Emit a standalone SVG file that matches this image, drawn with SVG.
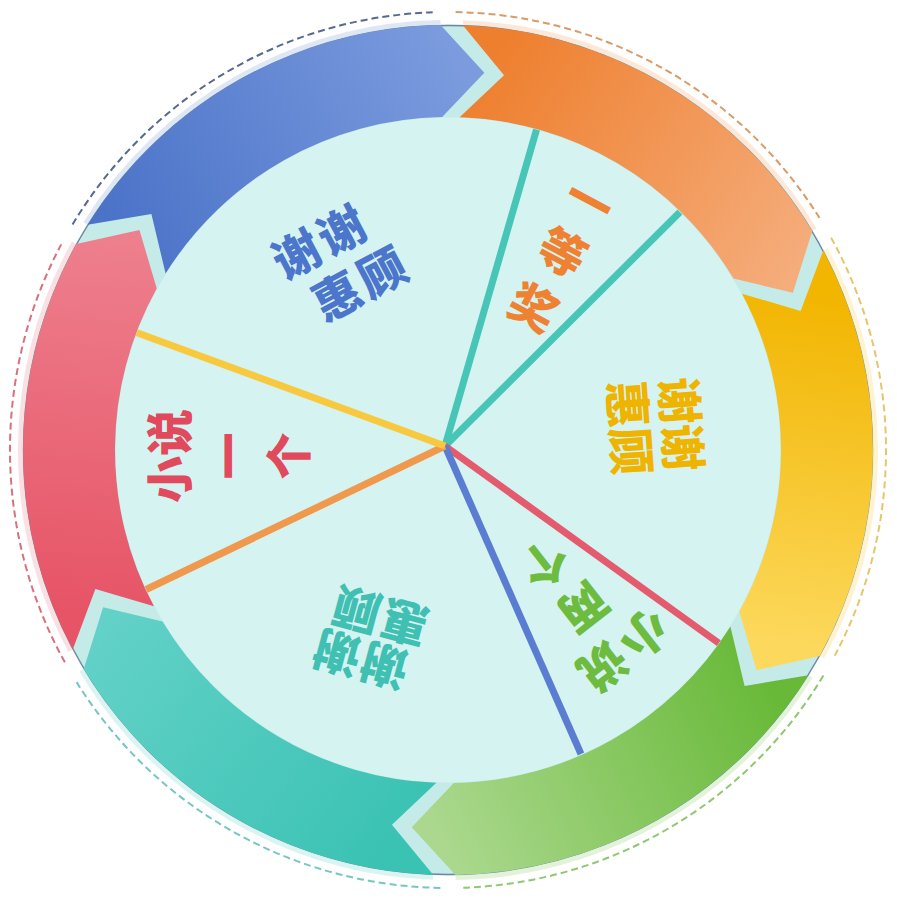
<svg xmlns="http://www.w3.org/2000/svg" width="897" height="898" viewBox="0 0 897 898">
<style>
.lbl{font-family:"Noto Sans CJK SC","Noto Sans",sans-serif;font-weight:900;font-size:47px;text-anchor:middle}
.spoke{stroke-width:7;fill:none}
.dash{fill:none;stroke-width:2;stroke-dasharray:7 4}
.halo{fill:none;stroke-width:10;opacity:0.18}
</style>
<defs>
<linearGradient id="gBlue" gradientUnits="userSpaceOnUse" x1="125" y1="247" x2="462" y2="70"><stop offset="0" stop-color="#4b73c8"/><stop offset="1" stop-color="#7b9bde"/></linearGradient>
<linearGradient id="gOrange" gradientUnits="userSpaceOnUse" x1="480" y1="70" x2="790" y2="280"><stop offset="0" stop-color="#ee7f2e"/><stop offset="1" stop-color="#f5ad7c"/></linearGradient>
<linearGradient id="gYellow" gradientUnits="userSpaceOnUse" x1="800" y1="290" x2="760" y2="640"><stop offset="0" stop-color="#f2b500"/><stop offset="1" stop-color="#fcd85c"/></linearGradient>
<linearGradient id="gGreen" gradientUnits="userSpaceOnUse" x1="760" y1="660" x2="430" y2="825"><stop offset="0" stop-color="#68b938"/><stop offset="1" stop-color="#abd88e"/></linearGradient>
<linearGradient id="gTeal" gradientUnits="userSpaceOnUse" x1="410" y1="825" x2="120" y2="610"><stop offset="0" stop-color="#3ac2b3"/><stop offset="1" stop-color="#62d1c7"/></linearGradient>
<linearGradient id="gRed" gradientUnits="userSpaceOnUse" x1="110" y1="615" x2="140" y2="240"><stop offset="0" stop-color="#e65466"/><stop offset="1" stop-color="#ee7f8d"/></linearGradient>
</defs>

<g id="outer-dashes">
<path class="dash" stroke="#56698f" d="M72.56,224.41 A438,438 0 0 1 432.71,12.27"/>
<path class="dash" stroke="#dc9a66" d="M455.64,12.07 A438,438 0 0 1 819.45,217.89"/>
<path class="dash" stroke="#e6c66a" d="M831.08,237.65 A438,438 0 0 1 834.73,655.63"/>
<path class="dash" stroke="#8fc872" d="M823.44,675.59 A438,438 0 0 1 463.29,887.73"/>
<path class="dash" stroke="#74c8bf" d="M440.36,887.93 A438,438 0 0 1 76.55,682.10"/>
<path class="dash" stroke="#d8707e" d="M64.92,662.35 A438,438 0 0 1 61.27,244.37"/>
</g>

<g id="outer-halo" transform="translate(1,2)">
<path class="halo" stroke="#4b73c8" d="M86.58,222.78 A425,425 0 0 1 439.58,23.06"/>
<path class="halo" stroke="#ee7f2e" d="M461.83,23.26 A425,425 0 0 1 811.30,229.11"/>
<path class="halo" stroke="#f2b500" d="M822.25,248.48 A425,425 0 0 1 818.71,654.04"/>
<path class="halo" stroke="#68b938" d="M807.42,673.22 A425,425 0 0 1 454.42,872.94"/>
<path class="halo" stroke="#3ac2b3" d="M432.17,872.74 A425,425 0 0 1 82.70,666.89"/>
<path class="halo" stroke="#e65466" d="M71.75,647.52 A425,425 0 0 1 75.29,241.96"/>
</g>

<g id="disc">
<circle cx="448" cy="450" r="334" fill="#d4f3f1"/>
</g>

<g id="connectors">
<line class="spoke" stroke="#47c5b6" x1="445" y1="446" x2="537" y2="128"/>
<line class="spoke" stroke="#47c5b6" x1="445" y1="446" x2="680" y2="212"/>
<line class="spoke" stroke="#e35b6d" x1="445" y1="446" x2="720" y2="644"/>
<line class="spoke" stroke="#5a7dd1" x1="445" y1="446" x2="581" y2="754"/>
<line class="spoke" stroke="#f0984c" x1="445" y1="446" x2="143" y2="591"/>
<line class="spoke" stroke="#f8c93f" x1="445" y1="446" x2="135" y2="332"/>
</g>

<g id="ring" transform="translate(1,2)">
<circle cx="447" cy="448" r="379" fill="none" stroke="#c4ebe8" stroke-width="93"/>
<circle cx="447" cy="448" r="424.5" fill="none" stroke="#34466e" stroke-width="1.3" opacity="0.6"/>
</g>

<g id="arrow-blue" transform="translate(1,2)">
<path fill="url(#gBlue)" d="M86.58,222.78 A425,425 0 0 1 439.58,23.06 L483.33,70.74 L441.19,115.05 A333,333 0 0 0 164.60,271.54 L150.39,212.07 Z"/>
</g>
<g id="arrow-orange" transform="translate(1,2)">
<path fill="url(#gOrange)" d="M461.83,23.26 A425,425 0 0 1 811.30,229.11 L791.88,290.83 L732.44,276.49 A333,333 0 0 0 458.62,115.20 L503.02,73.16 Z"/>
</g>
<g id="arrow-yellow" transform="translate(1,2)">
<path fill="url(#gYellow)" d="M822.25,248.48 A425,425 0 0 1 818.71,654.04 L755.55,668.09 L738.25,609.44 A333,333 0 0 0 741.02,291.67 L799.63,309.10 Z"/>
</g>
<g id="arrow-green" transform="translate(1,2)">
<path fill="url(#gGreen)" d="M807.42,673.22 A425,425 0 0 1 454.42,872.94 L410.67,825.26 L452.81,780.95 A333,333 0 0 0 729.40,624.46 L743.61,683.93 Z"/>
</g>
<g id="arrow-teal" transform="translate(1,2)">
<path fill="url(#gTeal)" d="M432.17,872.74 A425,425 0 0 1 82.70,666.89 L102.12,605.17 L161.56,619.51 A333,333 0 0 0 435.38,780.80 L390.98,822.84 Z"/>
</g>
<g id="arrow-red" transform="translate(1,2)">
<path fill="url(#gRed)" d="M71.75,647.52 A425,425 0 0 1 75.29,241.96 L138.45,227.91 L155.75,286.56 A333,333 0 0 0 152.98,604.33 L94.37,586.90 Z"/>
</g>

<g id="slice-blue" transform="translate(341.5,263) rotate(-28)">
<text class="lbl" fill="#4b76cb" letter-spacing="4"><tspan x="-8" y="-11">谢谢</tspan><tspan x="8" y="45">惠顾</tspan></text>
</g>
<g id="slice-orange" transform="translate(562,253) rotate(28)">
<text class="lbl" fill="#ef8232"><tspan x="0" y="-41">一</tspan><tspan x="0" y="17">等</tspan><tspan x="0" y="79">奖</tspan></text>
</g>
<g id="slice-yellow" transform="translate(654.5,426) rotate(86)">
<text class="lbl" fill="#efb400"><tspan x="0" y="-9">谢谢</tspan><tspan x="0" y="43">惠顾</tspan></text>
</g>
<g id="slice-green" transform="translate(581,609) rotate(142)">
<text class="lbl" fill="#6dbb3f" letter-spacing="6"><tspan x="-5" y="-41.5">小说</tspan><tspan x="0" y="17">两</tspan><tspan x="4" y="75.5">个</tspan></text>
</g>
<g id="slice-teal" transform="translate(370,636.5) rotate(195)">
<text class="lbl" fill="#3fc0b2" letter-spacing="2"><tspan x="4" y="-6.5">谢谢</tspan><tspan x="-4" y="40.5">惠顾</tspan></text>
</g>
<g id="slice-red" transform="translate(229,456) rotate(-90)">
<text class="lbl" fill="#e04a5c"><tspan x="0" y="-42.5">小说</tspan><tspan x="0" y="17">一</tspan><tspan x="0" y="77">个</tspan></text>
</g>
</svg>
